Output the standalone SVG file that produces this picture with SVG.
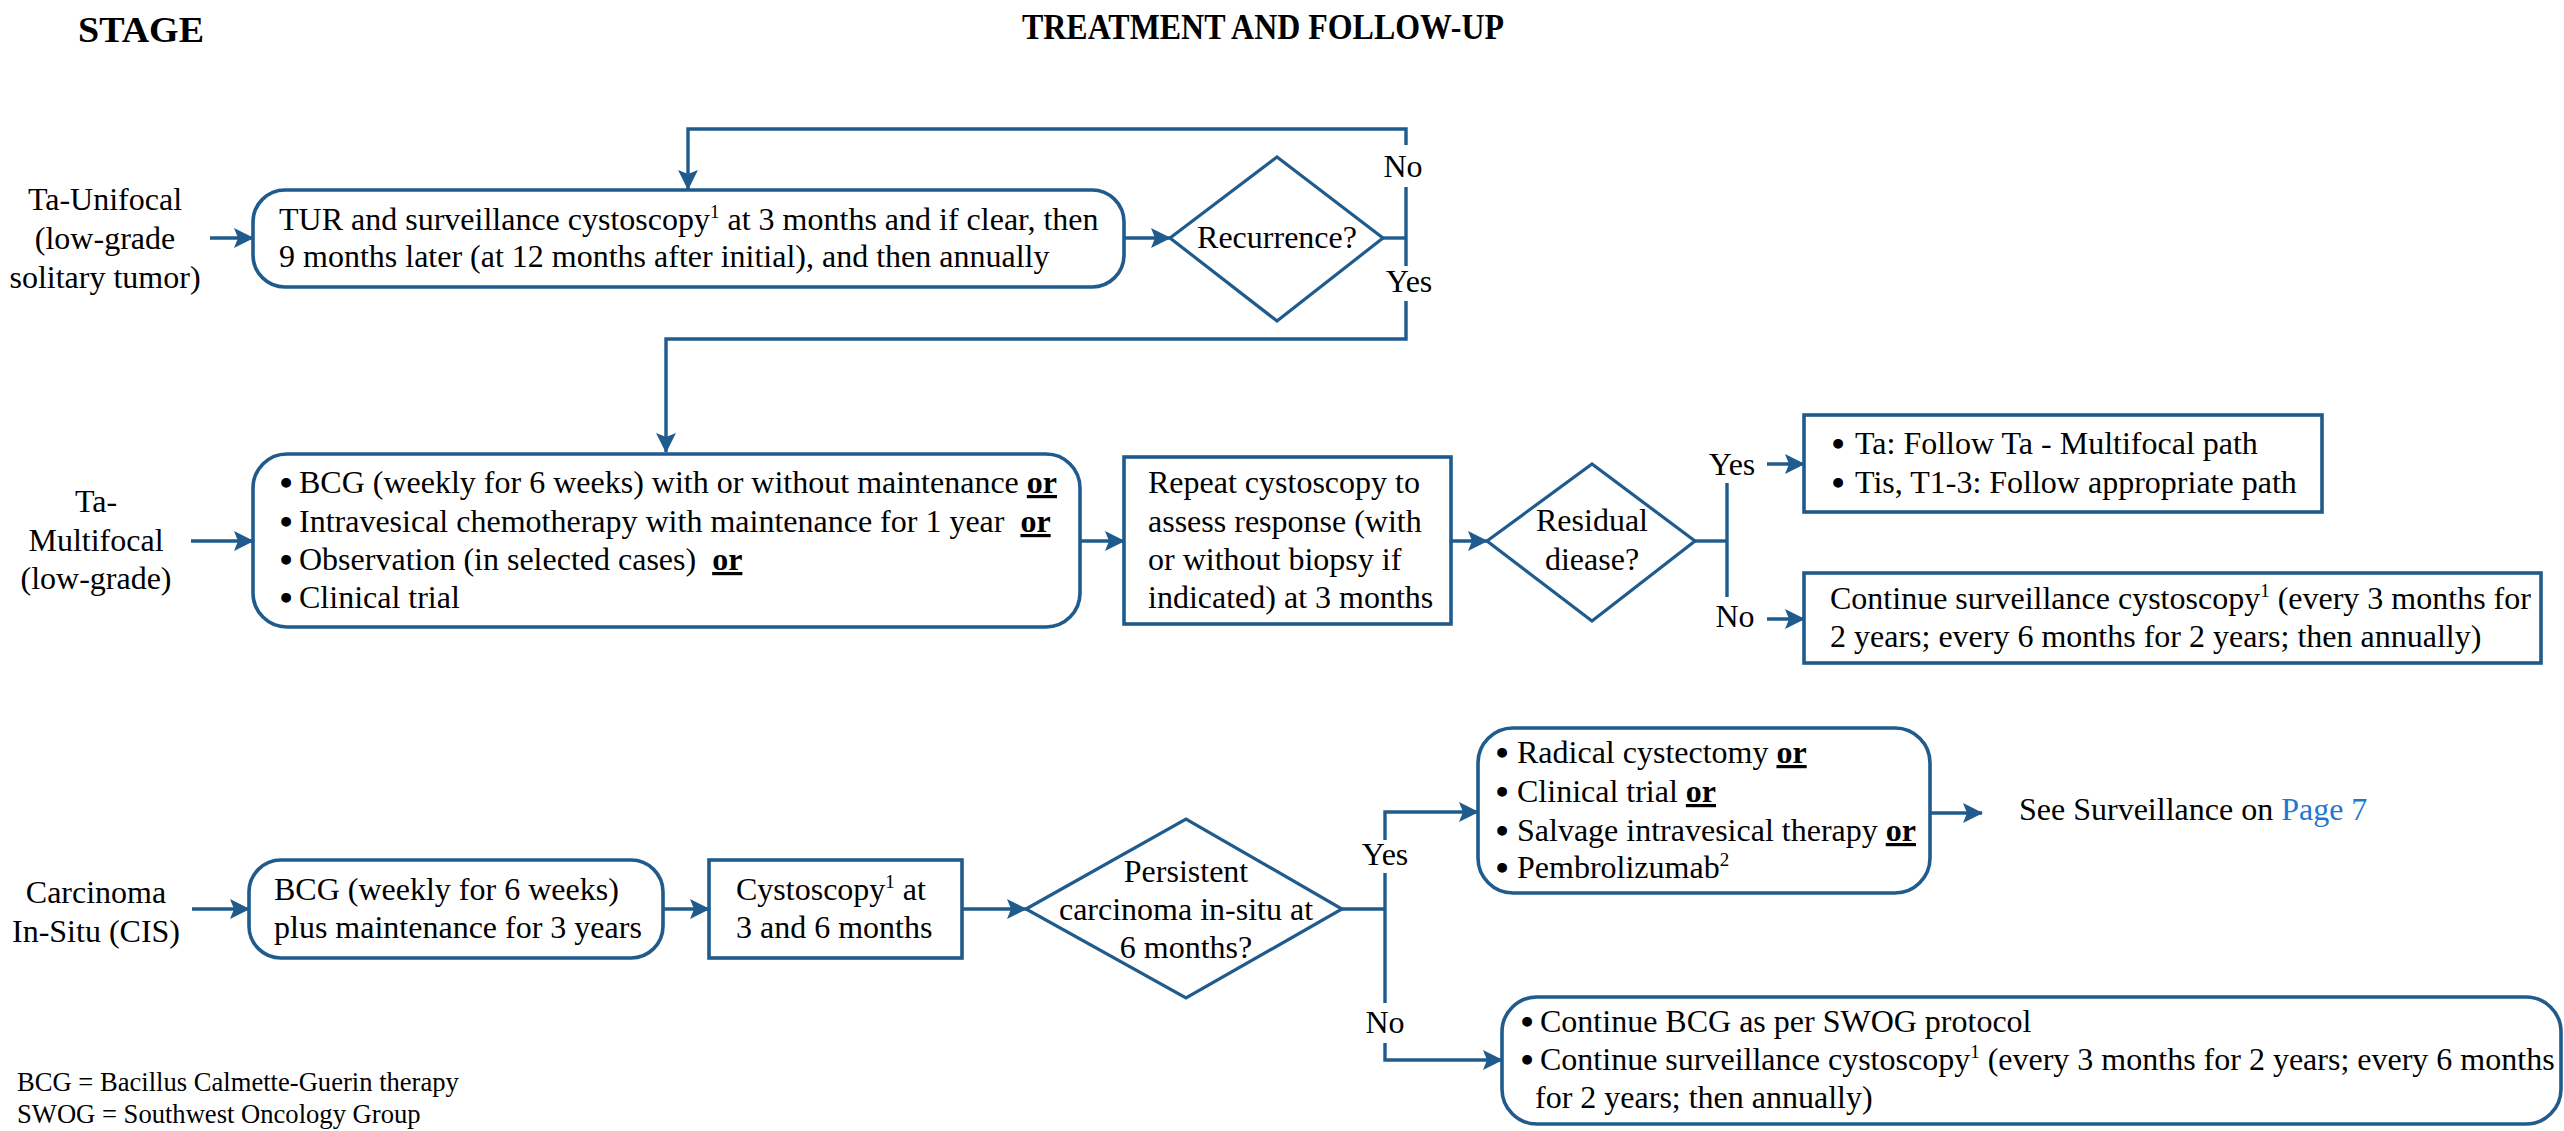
<svg xmlns="http://www.w3.org/2000/svg" width="2564" height="1131" viewBox="0 0 2564 1131">
  <style>
    text { font-family: "Liberation Serif", "Times New Roman", serif; fill: #000; }
    .t { font-size: 32px; }
    .c { text-anchor: middle; }
    .b { font-size: 32px; text-anchor: middle; stroke: #000; stroke-width: 2.2; }
    .h { font-size: 36px; font-weight: bold; }
    .fn { font-size: 26.6px; }
    .or { font-weight: bold; text-decoration: underline; }
    .sup { font-size: 19px; }
    .link { fill: #1f77d0; }
    .box { fill: #fff; stroke: #1f5b8c; stroke-width: 3.6; }
    .dia { fill: #fff; stroke: #1f5b8c; stroke-width: 3.2; }
    .ln { fill: none; stroke: #1f5b8c; stroke-width: 3.4; }
    .arr { fill: none; stroke: #1f5b8c; stroke-width: 3.4; marker-end: url(#ah); }
  </style>
  <defs>
    <marker id="ah" viewBox="0 0 20 20" refX="19" refY="10" markerWidth="20" markerHeight="20" markerUnits="userSpaceOnUse" orient="auto">
      <path d="M0,0 L20,10 L0,20 L4,10 z" fill="#1f5b8c"/>
    </marker>
  </defs>
  <rect width="2564" height="1131" fill="#fff"/>

  <!-- column headings -->
  <text class="h c" x="141" y="42" textLength="126" lengthAdjust="spacingAndGlyphs">STAGE</text>
  <text class="h" x="1022" y="39" textLength="482" lengthAdjust="spacingAndGlyphs">TREATMENT AND FOLLOW-UP</text>

  <!-- connectors -->
  <g id="connectors">
    <!-- row 1 -->
    <line class="arr" x1="210" y1="238" x2="253" y2="238"/>
    <line class="arr" x1="1124" y1="238" x2="1170" y2="238"/>
    <polyline class="ln" points="1383,238 1406,238"/>
    <polyline class="arr" points="1406,145 1406,129 688,129 688,189"/>
    <line class="ln" x1="1406" y1="187" x2="1406" y2="266"/>
    <polyline class="arr" points="1406,301 1406,339 666,339 666,452"/>
    <!-- row 2 -->
    <line class="arr" x1="191" y1="541" x2="253" y2="541"/>
    <line class="arr" x1="1080" y1="541" x2="1124" y2="541"/>
    <line class="arr" x1="1451" y1="541" x2="1487" y2="541"/>
    <line class="ln" x1="1695" y1="541" x2="1727" y2="541"/>
    <line class="ln" x1="1727" y1="483" x2="1727" y2="597"/>
    <line class="arr" x1="1767" y1="464" x2="1804" y2="464"/>
    <line class="arr" x1="1767" y1="619" x2="1804" y2="619"/>
    <!-- row 3 -->
    <line class="arr" x1="192" y1="909" x2="249" y2="909"/>
    <line class="arr" x1="663" y1="909" x2="709" y2="909"/>
    <line class="arr" x1="962" y1="909" x2="1026" y2="909"/>
    <line class="ln" x1="1342" y1="909" x2="1385" y2="909"/>
    <polyline class="arr" points="1385,840 1385,812 1478,812"/>
    <line class="ln" x1="1385" y1="873" x2="1385" y2="1003"/>
    <polyline class="arr" points="1385,1043 1385,1060 1502,1060"/>
    <line class="arr" x1="1930" y1="813" x2="1982" y2="813"/>
  </g>

  <!-- branch labels -->
  <g id="labels">
    <text class="t c" x="1403" y="177">No</text>
    <text class="t c" x="1409" y="292">Yes</text>
    <text class="t c" x="1732" y="475">Yes</text>
    <text class="t c" x="1735" y="627">No</text>
    <text class="t c" x="1385" y="865">Yes</text>
    <text class="t c" x="1385" y="1033">No</text>
  </g>

  <!-- stage labels -->
  <g id="stage-ta-unifocal">
    <text class="t c" x="105" y="210">Ta-Unifocal</text>
    <text class="t c" x="105" y="249">(low-grade</text>
    <text class="t c" x="105" y="288">solitary tumor)</text>
  </g>
  <g id="stage-ta-multifocal">
    <text class="t c" x="96" y="512">Ta-</text>
    <text class="t c" x="96" y="551">Multifocal</text>
    <text class="t c" x="96" y="589">(low-grade)</text>
  </g>
  <g id="stage-cis">
    <text class="t c" x="96" y="903">Carcinoma</text>
    <text class="t c" x="96" y="942">In-Situ (CIS)</text>
  </g>

  <!-- row 1 nodes -->
  <g id="tur">
    <rect class="box" x="253" y="190" width="871" height="97" rx="32"/>
    <text class="t" x="279" y="230">TUR and surveillance cystoscopy<tspan class="sup" dy="-12">1</tspan><tspan dy="12"> at 3 months and if clear, then</tspan></text>
    <text class="t" x="279" y="267">9 months later (at 12 months after initial), and then annually</text>
  </g>
  <g id="recurrence">
    <polygon class="dia" points="1170,238 1277,157 1383,238 1277,321"/>
    <text class="t c" x="1277" y="248">Recurrence?</text>
  </g>

  <!-- row 2 nodes -->
  <g id="ta-multi-treatment">
    <rect class="box" x="253" y="454" width="827" height="173" rx="34"/>
    <text class="b" x="286" y="494">•</text>
    <text class="t" x="299" y="493">BCG (weekly for 6 weeks) with or without maintenance <tspan class="or">or</tspan></text>
    <text class="b" x="286" y="533">•</text>
    <text class="t" x="299" y="532">Intravesical chemotherapy with maintenance for 1 year <tspan class="or" dx="8">or</tspan></text>
    <text class="b" x="286" y="571">•</text>
    <text class="t" x="299" y="570">Observation (in selected cases) <tspan class="or" dx="8">or</tspan></text>
    <text class="b" x="286" y="609">•</text>
    <text class="t" x="299" y="608">Clinical trial</text>
  </g>
  <g id="repeat-cysto">
    <rect class="box" x="1124" y="457" width="327" height="167"/>
    <text class="t" x="1148" y="493">Repeat cystoscopy to</text>
    <text class="t" x="1148" y="532">assess response (with</text>
    <text class="t" x="1148" y="570">or without biopsy if</text>
    <text class="t" x="1148" y="608">indicated) at 3 months</text>
  </g>
  <g id="residual">
    <polygon class="dia" points="1487,541 1592,464 1695,541 1592,621"/>
    <text class="t c" x="1592" y="531">Residual</text>
    <text class="t c" x="1592" y="570">diease?</text>
  </g>
  <g id="residual-yes">
    <rect class="box" x="1804" y="415" width="518" height="97"/>
    <text class="b" x="1838" y="455">•</text>
    <text class="t" x="1855" y="454">Ta: Follow Ta - Multifocal path</text>
    <text class="b" x="1838" y="494">•</text>
    <text class="t" x="1855" y="493">Tis, T1-3: Follow appropriate path</text>
  </g>
  <g id="residual-no">
    <rect class="box" x="1804" y="573" width="737" height="90"/>
    <text class="t" x="1830" y="609">Continue surveillance cystoscopy<tspan class="sup" dy="-12">1</tspan><tspan dy="12"> (every 3 months for</tspan></text>
    <text class="t" x="1830" y="647">2 years; every 6 months for 2 years; then annually)</text>
  </g>

  <!-- row 3 nodes -->
  <g id="cis-bcg">
    <rect class="box" x="249" y="860" width="414" height="98" rx="32"/>
    <text class="t" x="274" y="900">BCG (weekly for 6 weeks)</text>
    <text class="t" x="274" y="938">plus maintenance for 3 years</text>
  </g>
  <g id="cis-cysto">
    <rect class="box" x="709" y="860" width="253" height="98"/>
    <text class="t" x="736" y="900">Cystoscopy<tspan class="sup" dy="-12">1</tspan><tspan dy="12"> at</tspan></text>
    <text class="t" x="736" y="938">3 and 6 months</text>
  </g>
  <g id="persistent">
    <polygon class="dia" points="1026,909 1186,819 1342,909 1186,998"/>
    <text class="t c" x="1186" y="882">Persistent</text>
    <text class="t c" x="1186" y="920">carcinoma in-situ at</text>
    <text class="t c" x="1186" y="958">6 months?</text>
  </g>
  <g id="persistent-yes">
    <rect class="box" x="1478" y="728" width="452" height="165" rx="35"/>
    <text class="b" x="1502" y="764">•</text>
    <text class="t" x="1517" y="763">Radical cystectomy <tspan class="or">or</tspan></text>
    <text class="b" x="1502" y="803">•</text>
    <text class="t" x="1517" y="802">Clinical trial <tspan class="or">or</tspan></text>
    <text class="b" x="1502" y="842">•</text>
    <text class="t" x="1517" y="841">Salvage intravesical therapy <tspan class="or">or</tspan></text>
    <text class="b" x="1502" y="879">•</text>
    <text class="t" x="1517" y="878">Pembrolizumab<tspan class="sup" dy="-12">2</tspan></text>
  </g>
  <g id="see-surveillance">
    <text class="t" x="2019" y="820">See Surveillance on <tspan class="link">Page 7</tspan></text>
  </g>
  <g id="persistent-no">
    <rect class="box" x="1502" y="997" width="1059" height="127" rx="35"/>
    <text class="b" x="1527" y="1033">•</text>
    <text class="t" x="1540" y="1032">Continue BCG as per SWOG protocol</text>
    <text class="b" x="1527" y="1071">•</text>
    <text class="t" x="1540" y="1070">Continue surveillance cystoscopy<tspan class="sup" dy="-12">1</tspan><tspan dy="12"> (every 3 months for 2 years; every 6 months</tspan></text>
    <text class="t" x="1535" y="1108">for 2 years; then annually)</text>
  </g>

  <!-- abbreviations -->
  <g id="footnotes">
    <text class="fn" x="17" y="1091">BCG = Bacillus Calmette-Guerin therapy</text>
    <text class="fn" x="17" y="1123">SWOG = Southwest Oncology Group</text>
  </g>
</svg>
